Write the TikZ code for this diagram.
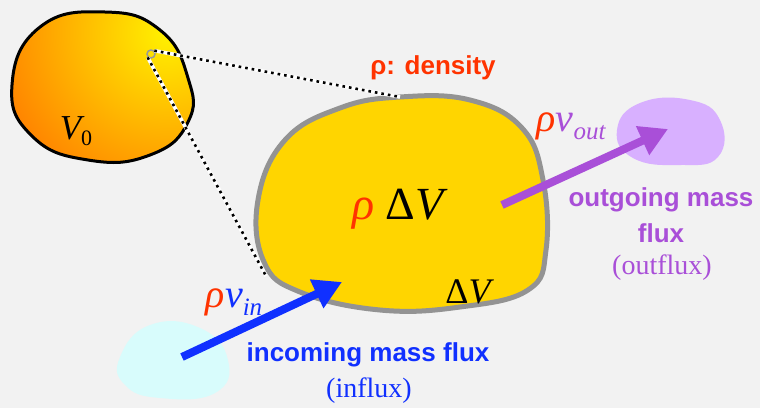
\documentclass[tikz,border=0pt]{standalone}
\usepackage{fontspec}
\setmainfont{Liberation Serif}
\setsansfont{Liberation Sans}
\usetikzlibrary{arrows.meta}
\definecolor{bg}{HTML}{F2F2F2}
\definecolor{rhored}{HTML}{FF3300}
\definecolor{purp}{HTML}{A94FD8}
\definecolor{lpurp}{HTML}{D8B0FF}
\definecolor{blu}{HTML}{1030FF}
\definecolor{lcyan}{HTML}{D8FCFC}
\definecolor{gold}{HTML}{FFD500}
\definecolor{dorange}{HTML}{FF7A00}
\definecolor{yel}{HTML}{FFF200}
\begin{document}
\begin{tikzpicture}[x=1pt,y=-1pt,
  lbl/.style={inner sep=0pt, font=\sffamily\bfseries\fontsize{26}{36}\selectfont, align=center},
  fluxarrow/.style={line width=8pt, -{Triangle[length=28pt,width=30pt]}},
  dotline/.style={line width=3.6pt, white},
  dotdash/.style={line width=2.6pt, black, dash pattern=on 2.6pt off 4pt}]
\fill[bg] (0,0) rectangle (760,408);
\useasboundingbox (0,0) rectangle (760,408);
% V0 blob
\begin{scope}
\clip plot[smooth cycle, tension=0.8] coordinates {(12,85) (40,27) (105,12) (160,30) (188,78) (188,122) (150,155) (88,160) (32,136)};
\shade[inner color=yel, outer color=dorange] (168,32) circle (190);
\end{scope}
\draw[black, line width=3pt] plot[smooth cycle, tension=0.8] coordinates {(12,85) (40,27) (105,12) (160,30) (188,78) (188,122) (150,155) (88,160) (32,136)};
% cyan blob
\fill[lcyan] plot[smooth cycle, tension=0.8] coordinates {(120,357) (150,325) (200,328) (228,360) (215,393) (160,398) (125,385)};
% purple blob
\fill[lpurp] plot[smooth cycle, tension=0.8] coordinates {(617,130) (640,103) (690,100) (720,120) (718,157) (680,165) (633,158)};
% big blob
\filldraw[fill=gold, draw=gray!85, line width=5pt] plot[smooth cycle, tension=0.7] coordinates {(400,97) (470,100) (522,128) (543,180) (546,250) (528,290) (460,307) (380,310) (300,292) (264,262) (258,200) (285,140) (340,108)};
% zoom lines
\node[circle, draw=gray!80, line width=1.5pt, minimum size=8pt, inner sep=0pt] (pt) at (151,54) {};
\coordinate (A) at (400,97);
\coordinate (B) at (266,276);
\draw[dotline] (pt.north east) -- (A);
\draw[dotline] (pt.south west) -- (B);
\draw[dotdash] (pt.north east) -- (A);
\draw[dotdash] (pt.south west) -- (B);
% arrows
\coordinate (o1) at (502,205);
\coordinate (o2) at (668,129);
\coordinate (i1) at (182,357);
\coordinate (i2) at (342,282);
\draw[fluxarrow, purp] (o1) -- (o2);
\draw[fluxarrow, blu] (i1) -- (i2);
% labels
\node (v0) at (76,131) {\fontsize{35}{35}\selectfont\itshape V\upshape\fontsize{22}{22}\selectfont\raisebox{-6pt}{0}};
\node[lbl, text=rhored] (dens) at (433,68) {ρ: density};
\node (rdv) at (398,209) {\fontsize{46}{46}\selectfont\textcolor{rhored}{\itshape ρ} Δ\itshape V};
\node (dv) at (468,292) {\fontsize{36}{36}\selectfont Δ\itshape V};
\node (rvout) at (571,126) {\fontsize{40}{40}\selectfont\textcolor{rhored}{\itshape ρ}\textcolor{purp}{\itshape v\fontsize{25}{25}\selectfont\raisebox{-8pt}{out}}};
\node (rvin) at (234,302) {\fontsize{40}{40}\selectfont\textcolor{rhored}{\itshape ρ}\textcolor{blu}{\itshape v\fontsize{25}{25}\selectfont\raisebox{-8pt}{in}}};
\node[lbl, text=purp] (outg) at (661,215) {outgoing mass\\flux};
\node[text=purp, inner sep=0pt] (outf) at (662,268) {\fontsize{28}{28}\selectfont(outflux)};
\node[lbl, text=blu] (inc) at (368,355) {incoming mass flux};
\node[text=blu, inner sep=0pt] (inf) at (369,391) {\fontsize{28}{28}\selectfont(influx)};
\end{tikzpicture}
\end{document}
